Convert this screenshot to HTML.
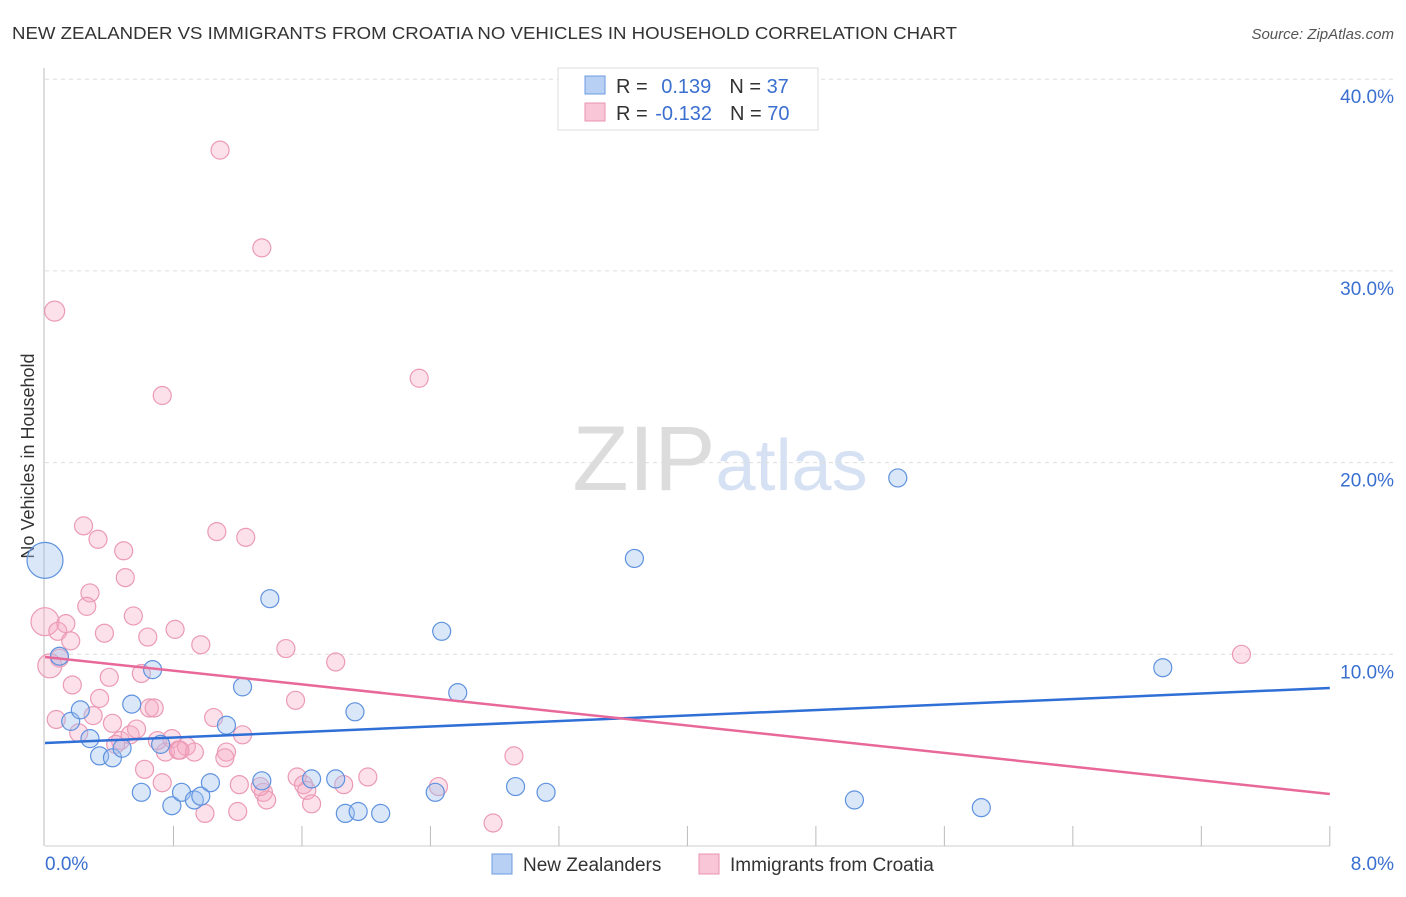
<!DOCTYPE html>
<html><head><meta charset="utf-8"><style>
body{margin:0;background:#fff;font-family:"Liberation Sans",sans-serif;}
svg text{font-family:"Liberation Sans",sans-serif;}
</style></head><body>
<svg id="c" width="1406" height="892" xmlns="http://www.w3.org/2000/svg">
<text x="12" y="39" font-size="17.5" fill="#333" textLength="945" lengthAdjust="spacingAndGlyphs">NEW ZEALANDER VS IMMIGRANTS FROM CROATIA NO VEHICLES IN HOUSEHOLD CORRELATION CHART</text>
<text x="1394" y="39" font-size="15" fill="#555" text-anchor="end" font-style="italic">Source: ZipAtlas.com</text>
<text x="720" y="490" font-size="92" fill="#e4e4e4" text-anchor="middle" font-family="Liberation Serif"><tspan fill="#dcdcdc">ZIP</tspan><tspan fill="#d6e2f3" font-family="Liberation Sans" font-size="72">atlas</tspan></text>
<text transform="translate(34,456) rotate(-90)" font-size="18" fill="#333" text-anchor="middle">No Vehicles in Household</text>
<g id="grid"></g><g id="pts"></g><g id="lines"></g>
<g>
<rect x="558" y="68" width="260" height="62" fill="#fff" stroke="#ddd"/>
<rect x="585" y="76" width="20" height="18" fill="#b8d0f3" stroke="#6b9be0"/>
<rect x="585" y="103" width="20" height="18" fill="#f8c6d6" stroke="#ea93b0"/>
<text x="616" y="93" font-size="20" fill="#333">R = <tspan fill="#3a6fd0" dx="8">0.139</tspan><tspan fill="#333" dx="18">N = </tspan><tspan fill="#3a6fd0">37</tspan></text>
<text x="616" y="120" font-size="20" fill="#333">R = <tspan fill="#3a6fd0" dx="2">-0.132</tspan><tspan fill="#333" dx="18">N = </tspan><tspan fill="#3a6fd0">70</tspan></text>
</g>
<g>
<rect x="492" y="854" width="20" height="20" fill="#b8d0f3" stroke="#6b9be0"/>
<text x="523" y="871" font-size="19" fill="#333">New Zealanders</text>
<rect x="699" y="854" width="20" height="20" fill="#f8c6d6" stroke="#ea93b0"/>
<text x="730" y="871" font-size="19" fill="#333">Immigrants from Croatia</text>
</g>
</svg>
<script>
const xTicks=[0,8];
const yTicks=[10,20,30,40];
const blueX=[0,0.09,0.16,0.22,0.28,0.34,0.42,0.48,0.54,0.6,0.67,0.72,0.79,0.85,0.93,0.97,1.03,1.13,1.23,1.35,1.4,1.66,1.81,1.87,1.93,1.95,2.09,2.43,2.47,2.57,2.93,3.12,3.67,5.04,5.31,5.83,6.96];
const blueY=[14.9,9.9,6.5,7.1,5.6,4.7,4.6,5.1,7.4,2.8,9.2,5.3,2.1,2.8,2.4,2.6,3.3,6.3,8.3,3.4,12.9,3.5,3.5,1.7,7.0,1.8,1.7,2.8,11.2,8.0,3.1,2.8,15.0,2.4,19.2,2.0,9.3];
const blueR=[18,9,9,9,9,9,9,9,9,9,9,9,9,9,9,9,9,9,9,9,9,9,9,9,9,9,9,9,9,9,9,9,9,9,9,9,9];
const pinkX=[0.06,1.09,1.35,2.33,0.73,0.24,0.33,1.07,1.25,0.49,0.5,0.28,0.26,0,0.08,0.13,0.16,0.37,0.55,0.64,0.81,0.97,1.5,1.81,0.09,0.03,0.17,0.34,0.4,0.6,0.65,0.68,0.3,0.21,0.42,0.47,0.44,0.53,0.57,0.62,0.75,0.7,0.79,0.83,0.88,0.93,1.05,1.13,1.12,1.21,1.23,1.36,1.38,1.56,1.57,1.61,1.63,1.66,1.86,2.01,2.45,2.92,2.79,0.996,1.2,7.45,0.73,0.07,1.34,0.84];
const pinkY=[27.9,36.3,31.2,24.4,23.5,16.7,16.0,16.4,16.1,15.4,14.0,13.2,12.5,11.7,11.2,11.6,10.7,11.1,12.0,10.9,11.3,10.5,10.3,9.6,9.8,9.4,8.4,7.7,8.8,9.0,7.2,7.2,6.8,5.9,6.4,5.5,5.3,5.8,6.1,4.0,4.9,5.5,5.6,5.0,5.2,4.9,6.7,4.9,4.6,3.2,5.8,2.8,2.4,7.6,3.6,3.2,2.9,2.2,3.2,3.6,3.1,4.7,1.2,1.7,1.8,10.0,3.3,6.6,3.1,5.0];
const blueTrend=[5.37,8.24];
const pinkTrend=[9.86,2.71];
const X=v=>45+v*160.6, Y=v=>846-v*19.17;
const NS="http://www.w3.org/2000/svg";
function mk(t,a,p){const e=document.createElementNS(NS,t);for(const k in a)e.setAttribute(k,a[k]);p.appendChild(e);return e;}
const g=document.getElementById('grid');
const ax=mk('line',{x1:44,y1:68,x2:44,y2:846,stroke:'#bbb'},g);


yTicks.forEach(v=>{
 const l=mk('line',{x1:45,x2:1394,y1:Y(v),y2:Y(v),stroke:'#ddd','stroke-dasharray':'4,4'},g);
 
 
 const t=mk('text',{x:1394,y:Y(v)+24,'font-size':19,fill:'#3a6fd0','text-anchor':'end'},g);
 t.textContent=v.toFixed(1)+'%';
 
 
});
const bl=mk('line',{x1:45,x2:1330,y1:846,y2:846,stroke:'#ccc'},g);


for(let i=1;i<=10;i++){
 const l=mk('line',{x1:X(i*0.8),x2:X(i*0.8),y1:826,y2:846,stroke:'#bbb'},g);
 
 
}
xTicks.forEach((v,i)=>{
 const t=mk('text',{x:i?1394:45,y:870,'font-size':19,fill:'#3a6fd0','text-anchor':i?'end':'start'},g);
 t.textContent=v.toFixed(1)+'%';
 
 
});
const p=document.getElementById('pts');
pinkX.forEach((x,i)=>{
 const r=i==0?10:(i==13?14:(i==25?12:9));
 const c=mk('circle',{cx:X(x),cy:Y(pinkY[i]),r:r,fill:'rgba(245,170,195,0.35)',stroke:'#eb9ab5','stroke-width':1.2},p);
 
 
});
blueX.forEach((x,i)=>{
 const c=mk('circle',{cx:X(x),cy:Y(blueY[i]),r:blueR[i],fill:'rgba(160,195,240,0.4)',stroke:'#5f92de','stroke-width':1.2},p);
 
 
});
const L=document.getElementById('lines');
const b=mk('line',{x1:X(0),y1:Y(blueTrend[0]),x2:X(8),y2:Y(blueTrend[1]),stroke:'#2f6fd6','stroke-width':2.5},L);


const k=mk('line',{x1:X(0),y1:Y(pinkTrend[0]),x2:X(8),y2:Y(pinkTrend[1]),stroke:'#e8689a','stroke-width':2.5},L);


</script>
</body></html>
